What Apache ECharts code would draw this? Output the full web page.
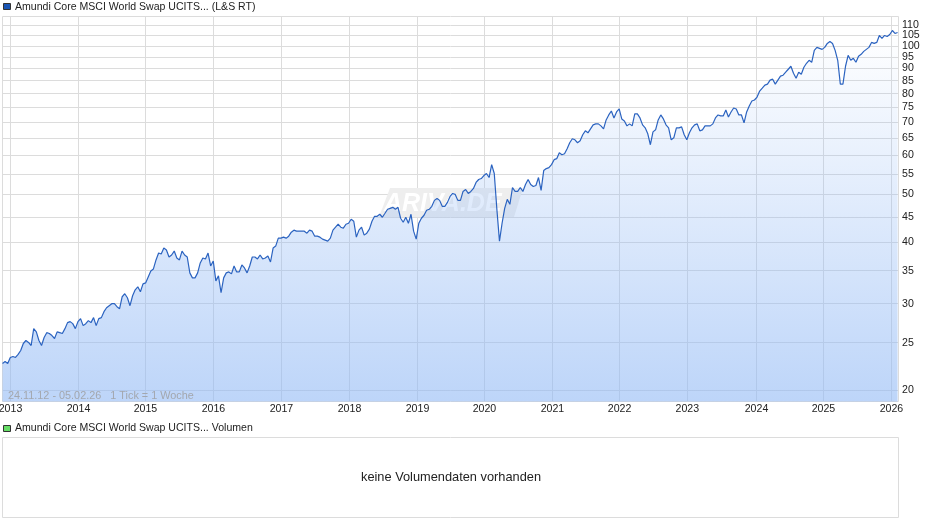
<!DOCTYPE html>
<html>
<head>
<meta charset="utf-8">
<script src="https://cdn.jsdelivr.net/npm/echarts@6/dist/echarts.min.js"></script>
<style>
    html, body { margin: 0; padding: 0; background: #fff; }
    #chart { width: 940px; height: 526px; }
</style>
</head>
<body>
<div id="chart"></div>
<script type="text/javascript">
    //two-weekly readings, first one is on 24.11.12
    var kurs2012 = [22.69, 22.91, 22.69];
    var kurs2013 = [23.34, 23.45, 23.34, 23.67, 24.11, 24.91, 25.26, 25.03, 24.68, 26.7, 26.3, 25.26, 24.68, 25.62, 26.2, 26.1, 25.85, 25.5, 26.3, 26.2, 26.1, 26.7, 27.46, 27.59, 27.33, 26.7];
    var kurs2014 = [27.59, 27.98, 27.08, 27.33, 27.72, 27.46, 28.11, 27.08, 27.98, 28.11, 28.9, 29.44, 29.72, 30.0, 30.0, 29.58, 29.31, 30.99, 31.43, 30.84, 29.72, 31.13, 32.01, 32.46, 31.72, 32.91];
    var kurs2015 = [33.06, 34.0, 34.96, 35.29, 36.8, 38.01, 37.83, 38.9, 38.54, 37.31, 37.66, 38.36, 37.14, 36.8, 38.36, 37.66, 37.31, 34.64, 33.84, 33.84, 34.64, 36.29, 37.14, 36.97, 38.01, 35.78];
    var kurs2016 = [36.62, 33.37, 34.16, 31.57, 33.84, 34.64, 34.8, 34.48, 35.78, 34.8, 34.8, 35.95, 35.45, 34.64, 35.78, 37.31, 37.31, 36.97, 37.66, 36.97, 37.14, 37.48, 36.45, 38.9, 39.26, 40.74];
    var kurs2017 = [40.74, 40.93, 40.74, 41.12, 41.89, 42.29, 42.09, 42.09, 42.09, 42.09, 41.7, 42.29, 42.09, 41.12, 41.12, 40.93, 40.56, 40.37, 40.18, 40.74, 42.29, 42.88, 43.48, 42.88, 42.68, 43.48];
    var kurs2018 = [43.68, 44.5, 44.09, 40.93, 42.29, 42.88, 41.32, 41.7, 42.49, 44.09, 45.12, 45.12, 45.55, 44.92, 45.76, 46.62, 46.83, 47.05, 46.62, 47.05, 44.71, 43.89, 44.92, 43.68, 45.55, 42.09];
    var kurs2019 = [40.56, 43.68, 44.71, 45.34, 46.4, 46.62, 47.27, 48.6, 49.05, 48.6, 47.27, 47.27, 48.15, 49.51, 50.2, 49.97, 48.6, 48.6, 50.67, 51.14, 50.2, 50.67, 51.38, 52.84, 53.58, 53.82];
    var kurs2020 = [54.58, 55.09, 54.07, 57.44, 55.09, 46.62, 40.18, 43.68, 46.83, 48.83, 47.71, 51.62, 50.67, 50.67, 51.62, 50.67, 52.35, 53.58, 52.35, 51.86, 52.1, 54.07, 50.91, 55.86, 56.38, 56.64];
    var kurs2021 = [57.44, 58.78, 59.05, 60.72, 60.16, 60.44, 61.86, 63.61, 64.8, 64.5, 63.61, 64.2, 66.02, 67.25, 66.63, 67.88, 69.15, 69.47, 69.47, 68.83, 67.88, 70.77, 72.43, 73.79, 71.43, 73.44];
    var kurs2022 = [74.48, 71.1, 70.44, 68.83, 69.47, 68.83, 72.77, 72.77, 71.43, 69.15, 68.2, 66.32, 63.02, 66.93, 67.56, 70.77, 72.43, 71.1, 69.15, 68.2, 64.5, 65.1, 68.2, 68.2, 68.51, 66.02];
    var kurs2023 = [64.5, 66.63, 68.2, 69.15, 69.47, 67.25, 67.56, 68.83, 68.83, 68.83, 69.47, 71.43, 72.43, 72.1, 72.1, 74.13, 71.76, 73.44, 74.82, 74.48, 72.43, 72.43, 69.79, 73.44, 75.52, 77.29];
    var kurs2024 = [77.66, 78.74, 80.96, 82.09, 83.25, 83.63, 85.2, 85.6, 83.63, 85.2, 86.8, 87.2, 88.42, 89.66, 90.92, 88.0, 86.0, 88.42, 87.6, 90.49, 92.19, 93.49, 92.62, 97.93, 99.29, 98.84];
    var kurs2025 = [98.38, 99.29, 101.15, 102.1, 101.15, 97.93, 93.49, 83.63, 83.63, 90.92, 95.68, 93.49, 94.36, 92.62, 95.24, 96.13, 97.47, 98.38, 99.29, 101.62, 101.15, 101.62, 104.98, 103.53, 104.98, 104.49];
    var kurs2026 = [105.47, 107.45, 105.96, 106.45];

    //tick labels
    var yTicks = [20, 25, 30, 35, 40, 45, 50, 55, 60, 65, 70, 75, 80, 85, 90, 95, 100, 105, 110];
    var yLabelsA = [20, 30, 40, 50, 60, 70, 80, 90, 100, 110];
    var yLabelsB = [25, 35, 45, 55, 65, 75, 85, 95, 105];
    var yearLabels = ['2013', '2014', '2015', '2016', '2017', '2018', '2019', '2020', '2021', '2022', '2023', '2024', '2025', '2026'];
    //the year lines sit on the first weekly tick, not on 1 January
    var yearDates = ['2013-01-06', '2014-01-07', '2015-01-02', '2016-01-03', '2017-01-03', '2018-01-04', '2019-01-05', '2019-12-31', '2020-12-31', '2021-12-27', '2022-12-27', '2024-01-03', '2024-12-28', '2025-12-29'];

    function toTime(s){
        var p = s.split('-');
        return Date.UTC(+p[0], +p[1] - 1, +p[2]);
    }

    var startTime = toTime('2012-11-24');
    var endTime = toTime('2026-02-05');
    var fontName = '"Liberation Sans", Arial, sans-serif';

    var kurs = kurs2012.concat(kurs2013, kurs2014, kurs2015, kurs2016, kurs2017, kurs2018, kurs2019, kurs2020, kurs2021, kurs2022, kurs2023, kurs2024, kurs2025, kurs2026);
    var seriesData = [];
    for(var i = 0; i < kurs.length; i++){
        seriesData.push([startTime + i * 14 * 86400000, kurs[i]]);
    }

    var yearTimes = [];
    var yearByTime = {};
    for(var j = 0; j < yearDates.length; j++){
        yearTimes.push(toTime(yearDates[j]));
        yearByTime[yearTimes[j]] = yearLabels[j];
    }

    //the top labels are only 10px apart and echarts drops one of them,
    //so the labels are shared out over two axes on the same scale
    function priceAxis(labels, ticks, showLines){
        return {
            type: 'log',
            position: 'right',
            offset: 0,
            min: 19,
            max: 114.7,
            axisLine: { show: false },
            axisTick: { show: false, customValues: ticks },
            splitLine: { show: showLines, lineStyle: { color: '#dcdcdc', width: 1 } },
            axisLabel: {
                customValues: labels,
                margin: 3.5,
                hideOverlap: false,
                fontFamily: fontName,
                fontSize: 10.6,
                color: '#222',
                formatter: function(value){
                    return String(Math.round(value));
                }
            }
        };
    }

    var chart = echarts.init(document.getElementById('chart'));
    chart.setOption({
        animation: false,
        backgroundColor: '#fff',
        grid: {
            left: 2.5,
            top: 16.5,
            width: 896,
            height: 385,
            //year labels hang over the left edge, keep the plot where it is
            outerBoundsMode: 'none',
            show: true,
            borderColor: '#dcdcdc',
            borderWidth: 1,
            backgroundColor: 'transparent'
        },
        xAxis: {
            //plain value axis on milliseconds, a time axis refuses custom ticks
            type: 'value',
            min: startTime,
            max: endTime,
            axisLine: { show: false },
            axisTick: { show: false, customValues: yearTimes },
            splitLine: { show: true, lineStyle: { color: '#dcdcdc', width: 1 } },
            axisLabel: {
                customValues: yearTimes,
                margin: 2,
                hideOverlap: false,
                fontFamily: fontName,
                fontSize: 10.6,
                color: '#222',
                formatter: function(value){
                    return yearByTime[value];
                }
            }
        },
        yAxis: [priceAxis(yLabelsA, yTicks, true), priceAxis(yLabelsB, yLabelsB, false)],
        series: [{
            type: 'line',
            data: seriesData,
            showSymbol: false,
            smooth: false,
            lineStyle: { color: '#2b63c0', width: 1.2 },
            areaStyle: {
                origin: 'start',
                opacity: 1,
                color: new echarts.graphic.LinearGradient(0, 0, 0, 1, [
                    { offset: 0, color: 'rgba(145,185,245,0)' },
                    { offset: 1, color: 'rgba(145,185,245,0.6)' }
                ])
            }
        }],
        graphic: [
            //watermark behind the area
            { type: 'polygon', z: 1, shape: { points: [[390, 188], [523, 188], [514, 217], [379, 217]], smooth: 0 }, style: { fill: '#eeeeee' } },
            { type: 'text', z: 1, left: 384, top: 192, style: { text: 'ARIVA.DE', fill: '#ffffff', font: 'italic bold 25px ' + fontName } },
            //price header
            { type: 'rect', shape: { x: 3.5, y: 3.5, width: 7, height: 6 }, style: { fill: '#1a56b5', stroke: '#333', lineWidth: 1 } },
            { type: 'text', left: 15, top: 2, style: { text: 'Amundi Core MSCI World Swap UCITS... (L&S RT)', fill: '#222', font: '10.55px ' + fontName } },
            //date range inside the plot
            { type: 'text', z: 5, left: 8, top: 390, style: { text: '24.11.12 - 05.02.26   1 Tick = 1 Woche', fill: '#a3a7ae', font: '10.85px ' + fontName } },
            //volume header and empty panel
            { type: 'rect', shape: { x: 3.5, y: 425.5, width: 7, height: 6 }, style: { fill: '#66dd66', stroke: '#333', lineWidth: 1 } },
            { type: 'text', left: 15, top: 423, style: { text: 'Amundi Core MSCI World Swap UCITS... Volumen', fill: '#222', font: '10.55px ' + fontName } },
            { type: 'rect', shape: { x: 2.5, y: 437.5, width: 896, height: 80 }, style: { fill: '#fff', stroke: '#dcdcdc', lineWidth: 1 } },
            { type: 'text', left: 361, top: 471, style: { text: 'keine Volumendaten vorhanden', fill: '#222', font: '12.8px ' + fontName } }
        ]
    });
</script>
</body>
</html>
